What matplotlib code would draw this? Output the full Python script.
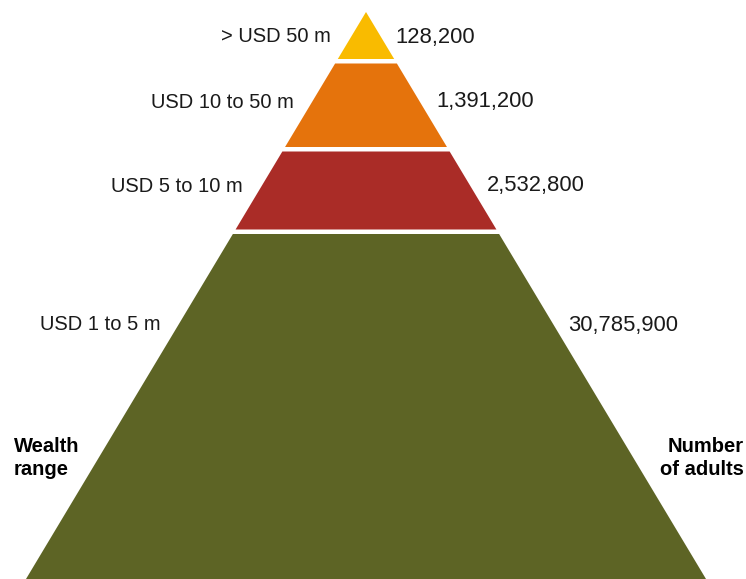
import matplotlib
matplotlib.use("Agg")
import matplotlib.pyplot as plt
from matplotlib.patches import Polygon

# Data
wealth_ranges = ["> USD 50 m", "USD 10 to 50 m", "USD 5 to 10 m", "USD 1 to 5 m"]
adults = [128200, 1391200, 2532800, 30785900]
colors = ["#F9BB00", "#E5730C", "#AA2C27", "#5D6425"]

# Layout (pixel space)
W, H = 746, 579
apex_x, apex_y = 366, 12
slope = 340 / 567.0  # half-width per pixel of height
bands = [(12, 59), (63.5, 147), (151.5, 229.5), (234, 579)]
label_y = [37, 102, 186, 325]
left_x = [331, 294, 243, 161]
right_x = [395, 436, 487, 568]

fig = plt.figure(figsize=(W / 100, H / 100), dpi=100)
ax = fig.add_axes([0, 0, 1, 1])
ax.set_xlim(0, W)
ax.set_ylim(H, 0)
ax.axis("off")

font = "Liberation Sans"

def hw(y):
    return (y - apex_y) * slope

for (y0, y1), c, lab, val, ly, lx, rx in zip(bands, colors, wealth_ranges, adults,
                                             label_y, left_x, right_x):
    pts = [(apex_x - hw(y0), y0), (apex_x + hw(y0), y0),
           (apex_x + hw(y1), y1), (apex_x - hw(y1), y1)]
    ax.add_patch(Polygon(pts, closed=True, facecolor=c, edgecolor="none"))
    ax.text(lx, ly, lab, ha="right", va="center", fontsize=14.5,
            family=font, color="#1a1a1a")
    ax.text(rx, ly, f"{val:,}", ha="left", va="center",
            fontsize=15.8, family=font, color="#1a1a1a")

ax.text(14, 458, "Wealth\nrange", ha="left", va="center", fontsize=14.5,
        family=font, fontweight="bold", color="black", linespacing=1.25)
ax.text(744, 458, "Number\nof adults", ha="right", va="center", fontsize=14.5,
        family=font, fontweight="bold", color="black", linespacing=1.25)

fig.savefig("out.png", dpi=100)
